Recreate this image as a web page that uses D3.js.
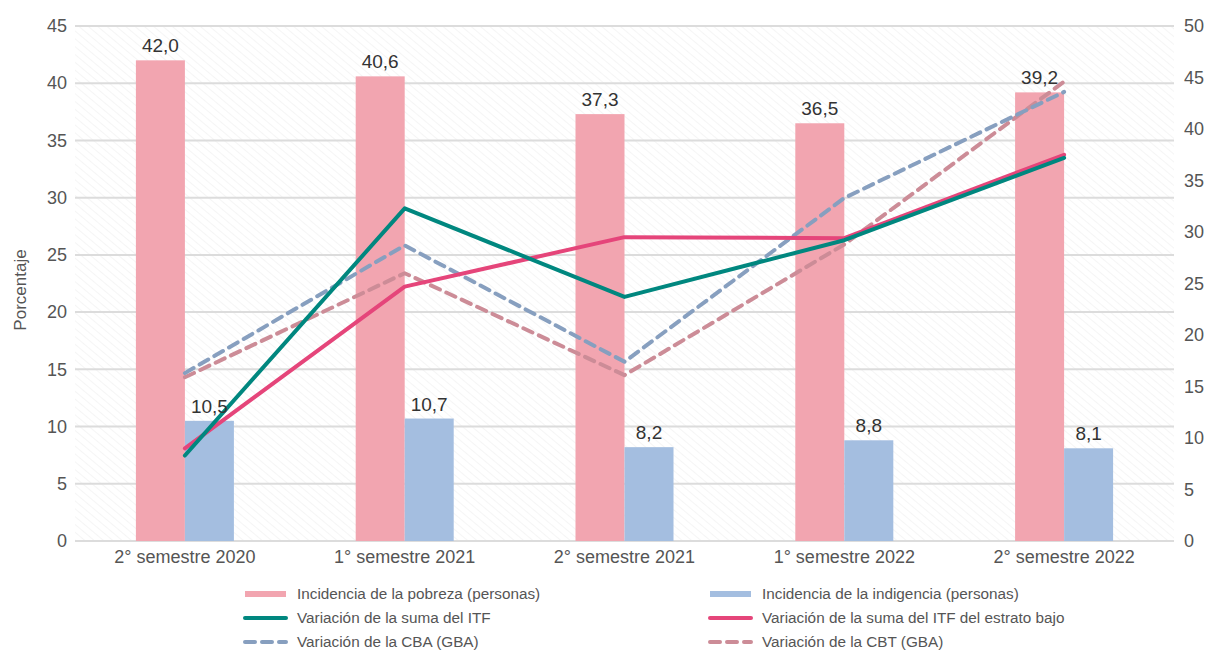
<!DOCTYPE html>
<html>
<head>
<meta charset="utf-8">
<script src="https://cdn.jsdelivr.net/npm/d3@7"></script>
<style>
  body { margin: 0; background: #fff; }
  svg text { font-family: "Liberation Sans", Arial, sans-serif; }
</style>
</head>
<body>
<svg id="chart"></svg>
<script>
// data
var categories = ["2° semestre 2020", "1° semestre 2021", "2° semestre 2021", "1° semestre 2022", "2° semestre 2022"];
var pobreza    = [42.0, 40.6, 37.3, 36.5, 39.2];
var indigencia = [10.5, 10.7, 8.2, 8.8, 8.1];
var varITF     = [8.3, 32.3, 23.7, 29.2, 37.2];
var varITFbajo = [9.0, 24.7, 29.5, 29.4, 37.5];
var varCBA     = [16.3, 28.7, 17.4, 33.3, 43.6];
var varCBT     = [15.9, 26.0, 16.1, 28.8, 44.6];
var leftTicks  = [0, 5, 10, 15, 20, 25, 30, 35, 40, 45];
var rightTicks = [0, 5, 10, 15, 20, 25, 30, 35, 40, 45, 50];

var W = 1207, H = 653;
var pLeft = 75, pRight = 1174, pTop = 26, pBottom = 541;

var svg = d3.select("#chart").attr("width", W).attr("height", H);

// faint hatch in the plot area
var defs = svg.append("defs");
var pat = defs.append("pattern")
    .attr("id", "hatch")
    .attr("patternUnits", "userSpaceOnUse")
    .attr("width", 6).attr("height", 6)
    .attr("patternTransform", "rotate(-50)");
pat.append("line")
    .attr("x1", 0).attr("y1", 0).attr("x2", 0).attr("y2", 6)
    .attr("stroke", "#ececec").attr("stroke-width", 1);

svg.append("rect")
    .attr("x", pLeft).attr("y", pTop)
    .attr("width", pRight - pLeft).attr("height", pBottom - pTop)
    .attr("fill", "url(#hatch)");

var x = d3.scaleBand().domain(categories).range([pLeft, pRight]);
var yL = d3.scaleLinear().domain([0, 45]).range([pBottom, pTop]);
var yR = d3.scaleLinear().domain([0, 50]).range([pBottom, pTop]);

// gridlines
svg.append("g").selectAll("line")
  .data(leftTicks)
  .enter().append("line")
    .attr("x1", pLeft).attr("x2", pRight)
    .attr("y1", d => yL(d)).attr("y2", d => yL(d))
    .attr("stroke", "#dcdcdc").attr("stroke-width", 2);

// axes
var axL = svg.append("g")
    .attr("transform", "translate(" + pLeft + ",0)")
    .call(d3.axisLeft(yL).tickValues(leftTicks).tickSize(0).tickPadding(8));
var axR = svg.append("g")
    .attr("transform", "translate(" + pRight + ",0)")
    .call(d3.axisRight(yR).tickValues(rightTicks).tickSize(0).tickPadding(10));
var axB = svg.append("g")
    .attr("transform", "translate(0," + pBottom + ")")
    .call(d3.axisBottom(x).tickSize(0).tickPadding(9));
[axL, axR, axB].forEach(function(a) {
  a.select(".domain").remove();
  a.selectAll("text")
    .style("font-size", "18px")
    .style("font-family", "'Liberation Sans', Arial, sans-serif")
    .attr("fill", "#555");
});

svg.append("text")
    .text("Porcentaje")
    .attr("transform", "translate(26,290)rotate(-90)")
    .attr("text-anchor", "middle")
    .attr("fill", "#555")
    .style("font-size", "17px");

// bars
var bw = 49;
var bars = svg.append("g");
bars.selectAll(".pob")
  .data(pobreza)
  .enter().append("rect")
    .attr("x", (d, i) => x(categories[i]) + x.bandwidth() / 2 - bw)
    .attr("y", d => yL(d))
    .attr("width", bw)
    .attr("height", d => pBottom - yL(d))
    .attr("fill", "#f2a5b0");
bars.selectAll(".ind")
  .data(indigencia)
  .enter().append("rect")
    .attr("x", (d, i) => x(categories[i]) + x.bandwidth() / 2)
    .attr("y", d => yL(d))
    .attr("width", bw)
    .attr("height", d => pBottom - yL(d))
    .attr("fill", "#a4bee0");

var fmt = d => d.toFixed(1).replace(".", ",");

// lines (right axis)
var line = d3.line()
    .x((d, i) => x(categories[i]) + x.bandwidth() / 2)
    .y(d => yR(d));

var series = [
  { v: varCBT, color: "#cc8c97", dash: "10,7" },
  { v: varCBA, color: "#879fbf", dash: "10,7" },
  { v: varITFbajo, color: "#e5457a", dash: null },
  { v: varITF, color: "#00877f", dash: null }
];
series.forEach(function(s) {
  svg.append("path")
    .datum(s.v)
    .attr("d", line)
    .attr("fill", "none")
    .attr("stroke", s.color)
    .attr("stroke-width", 4)
    .attr("stroke-linejoin", "round")
    .attr("stroke-linecap", "round")
    .attr("stroke-dasharray", s.dash);
});

// value labels
svg.append("g").selectAll("text")
  .data(pobreza)
  .enter().append("text")
    .attr("x", (d, i) => x(categories[i]) + x.bandwidth() / 2 - bw / 2)
    .attr("y", d => yL(d) - 8)
    .attr("text-anchor", "middle")
    .attr("fill", "#333")
    .style("font-size", "19px")
    .text(fmt);
svg.append("g").selectAll("text")
  .data(indigencia)
  .enter().append("text")
    .attr("x", (d, i) => x(categories[i]) + x.bandwidth() / 2 + bw / 2)
    .attr("y", d => yL(d) - 8)
    .attr("text-anchor", "middle")
    .attr("fill", "#333")
    .style("font-size", "19px")
    .text(fmt);

// legend
var legend = [
  { name: "Incidencia de la pobreza (personas)", color: "#f2a5b0", w: 6, dash: null, col: 0, row: 0 },
  { name: "Incidencia de la indigencia (personas)", color: "#a4bee0", w: 6, dash: null, col: 1, row: 0 },
  { name: "Variación de la suma del ITF", color: "#00877f", w: 4, dash: null, col: 0, row: 1 },
  { name: "Variación de la suma del ITF del estrato bajo", color: "#e5457a", w: 4, dash: null, col: 1, row: 1 },
  { name: "Variación de la CBA (GBA)", color: "#879fbf", w: 4, dash: "10,7", col: 0, row: 2 },
  { name: "Variación de la CBT (GBA)", color: "#cc8c97", w: 4, dash: "10,7", col: 1, row: 2 }
];
var colX = [243, 708];
var lg = svg.append("g").selectAll("g")
  .data(legend)
  .enter().append("g")
    .attr("transform", d => "translate(" + colX[d.col] + "," + (594 + d.row * 24) + ")");
lg.append("line")
    .attr("x1", 2).attr("x2", 43).attr("y1", 0).attr("y2", 0)
    .attr("stroke", d => d.color)
    .attr("stroke-width", d => d.w)
    .attr("stroke-linecap", d => d.w === 6 ? "butt" : "round")
    .attr("stroke-dasharray", d => d.dash);
lg.append("text")
    .attr("x", 54).attr("y", 5)
    .attr("fill", "#555")
    .style("font-size", "15.3px")
    .text(d => d.name);
</script>
</body>
</html>
